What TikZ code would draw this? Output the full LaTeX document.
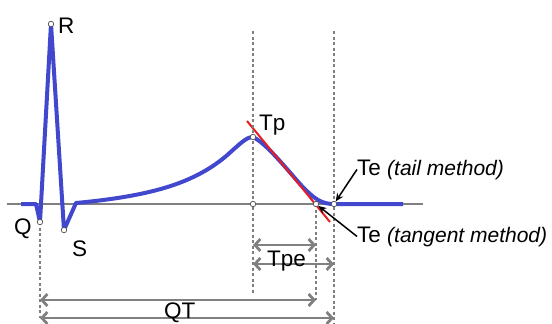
\documentclass[tikz,border=0pt]{standalone}
\usepackage{fontspec}
\setmainfont{Liberation Sans}
\usetikzlibrary{arrows.meta}
\definecolor{ecgblue}{RGB}{66,72,206}
\definecolor{axisgray}{RGB}{128,128,128}
\definecolor{tanred}{RGB}{232,30,30}

\begin{document}
\begin{tikzpicture}[x=1pt,y=-1pt,
  lbl/.style={font=\fontsize{22.5}{24}\selectfont, inner sep=0pt, anchor=base west},
  guide/.style={axisgray, line width=2pt, dash pattern=on 3pt off 2.5pt},
  span/.style={axisgray, line width=2.8pt,
    {Straight Barb[length=5.5pt,width=12pt]}-{Straight Barb[length=5.5pt,width=12pt]}},
  mark pt/.style={circle, draw=black!70, fill=white, line width=0.7pt, inner sep=0pt, minimum size=5.5pt},
  pointer/.style={black, line width=1.5pt, -{Stealth[length=8pt,width=7pt]}}]
  \useasboundingbox (0,0) rectangle (552,324);

  % ----- Key points of the beat -----
  \coordinate (q) at (40,222);
  \coordinate (r) at (51,24);
  \coordinate (s) at (64,230);
  \coordinate (tp) at (253,137);
  \coordinate (tpBase) at (253,204);
  \coordinate (teTan) at (316,204);
  \coordinate (teTail) at (334,204);

  % ----- Isoelectric baseline -----
  \draw[axisgray, line width=2pt] (7,204) -- (423,204);

  % ----- ECG trace -----
  \draw[ecgblue, line width=4pt, line join=round]
    (21,204) -- (36,204) -- (q) -- (r) -- (s) -- (76,203)
    .. controls (150,196) and (192,184) .. (225,157)
    .. controls (240,144) and (246,137) .. (tp)
    .. controls (265,143) and (280,161) .. (300,184)
    .. controls (315,200) and (322,204) .. (teTail) -- (403,204);

  % ----- Tangent at the down slope of T -----
  \draw[tanred, line width=2pt] (247,121) -- (330,222);

  % ----- Vertical guides -----
  \draw[guide] (q) -- (40,318);
  \draw[guide] (253,31) -- (253,293);
  \draw[guide] (teTan) -- (316,300);
  \draw[guide] (334,31) -- (334,324);

  % ----- Intervals -----
  \coordinate (qA) at (40,300);
  \coordinate (qB) at (40,318);
  \coordinate (tpA) at (253,245);
  \coordinate (tpB) at (253,264);
  \draw[span] (tpA) -- (316,245);
  \draw[span] (tpB) -- (334,264);
  \draw[span] (qA) -- (316,300);
  \draw[span] (qB) -- (334,318);

  % ----- Markers -----
  \foreach \p in {q,r,s,tp,tpBase,teTan,teTail}
    \node[mark pt] (\p Dot) at (\p) {};

  % ----- Labels -----
  \node[lbl] (rLbl) at (58,33) {R};
  \node[lbl] (qLbl) at (14,234) {Q};
  \node[lbl] (sLbl) at (72,256) {S};
  \node[lbl] (tpLbl) at (259,130) {Tp};
  \node[lbl] (tpeLbl) at (267,266) {Tpe};
  \node[lbl] (qtLbl) at (164,318) {QT};
  \node[lbl] (teTailLbl) at (357,175)
    {Te {\fontsize{21}{23}\selectfont\itshape (tail method)}};
  \node[lbl] (teTanLbl) at (357,242)
    {Te {\fontsize{21}{23}\selectfont\itshape (tangent method)}};

  \draw[pointer] (teTailLbl.west) -- (teTailDot);
  \draw[pointer] (teTanLbl.west) -- (teTanDot);
\end{tikzpicture}
\end{document}
